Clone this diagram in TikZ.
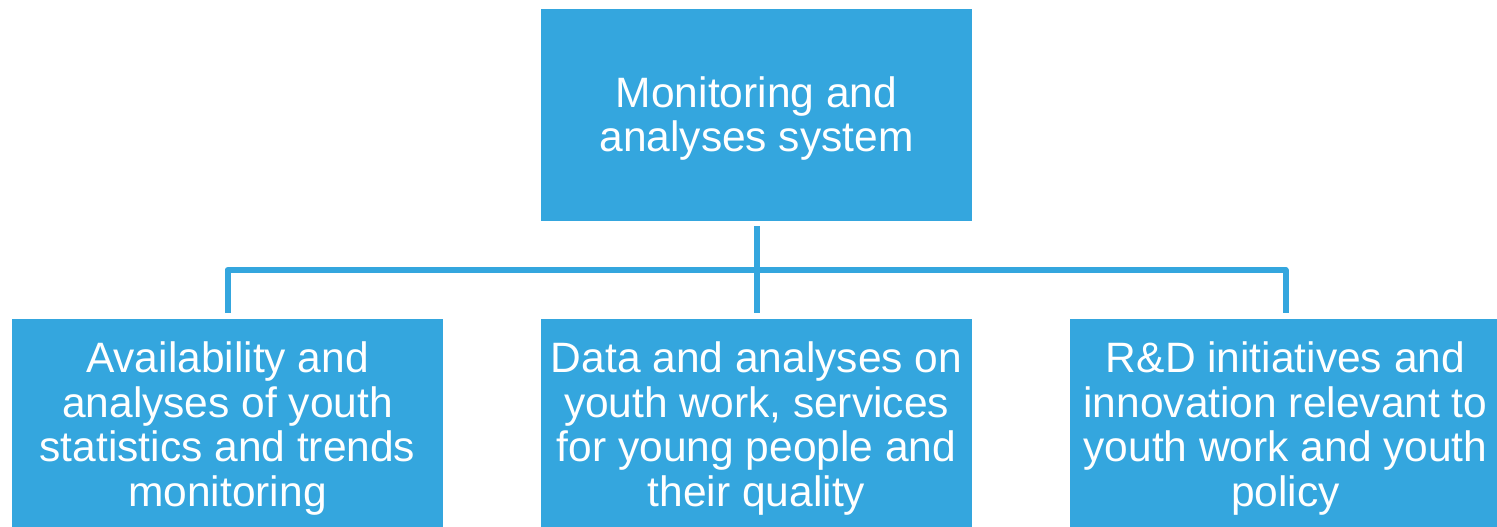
\documentclass[tikz,border=0pt]{standalone}
\usepackage{fontspec}
\setmainfont{Liberation Sans}
\usepackage{tikz}
\usetikzlibrary{calc}
\definecolor{boxblue}{RGB}{52,166,222}
\newcommand{\lowerfirst}{\rule{0pt}{38pt}}

\begin{document}
\begin{tikzpicture}[x=1pt,y=-1pt,
                    unit/.style={fill=boxblue,draw=none,minimum width=431pt,minimum height=212pt,
                                 inner sep=0pt,text=white,align=center,font=\fontsize{42.5}{44.5}\selectfont},
                    link/.style={draw=boxblue,line width=6pt,line join=round}]
                      \useasboundingbox (0,0) rectangle (1497,527);
                      \node[unit] (top) at (756.5,115) {\lowerfirst Monitoring and\\analyses system};
                      \node[unit] (stats) at (227.5,425) {\lowerfirst Availability and\\analyses of youth\\statistics and trends\\monitoring};
                      \node[unit] (data) at (756.5,425) {\lowerfirst Data and analyses on\\youth work, services\\for young people and\\their quality};
                      \node[unit] (rnd) at (1285.5,425) {\lowerfirst R\&D initiatives and\\innovation relevant to\\youth work and youth\\policy};
                      \coordinate (hub) at (756.5,270);
                      \draw[link] ([yshift=-5pt]top.south) -- ([yshift=6pt]data.north);
                      \draw[link] ([yshift=6pt]stats.north) |- (hub) -| ([yshift=6pt]rnd.north);
                  \end{tikzpicture}
\end{document}
